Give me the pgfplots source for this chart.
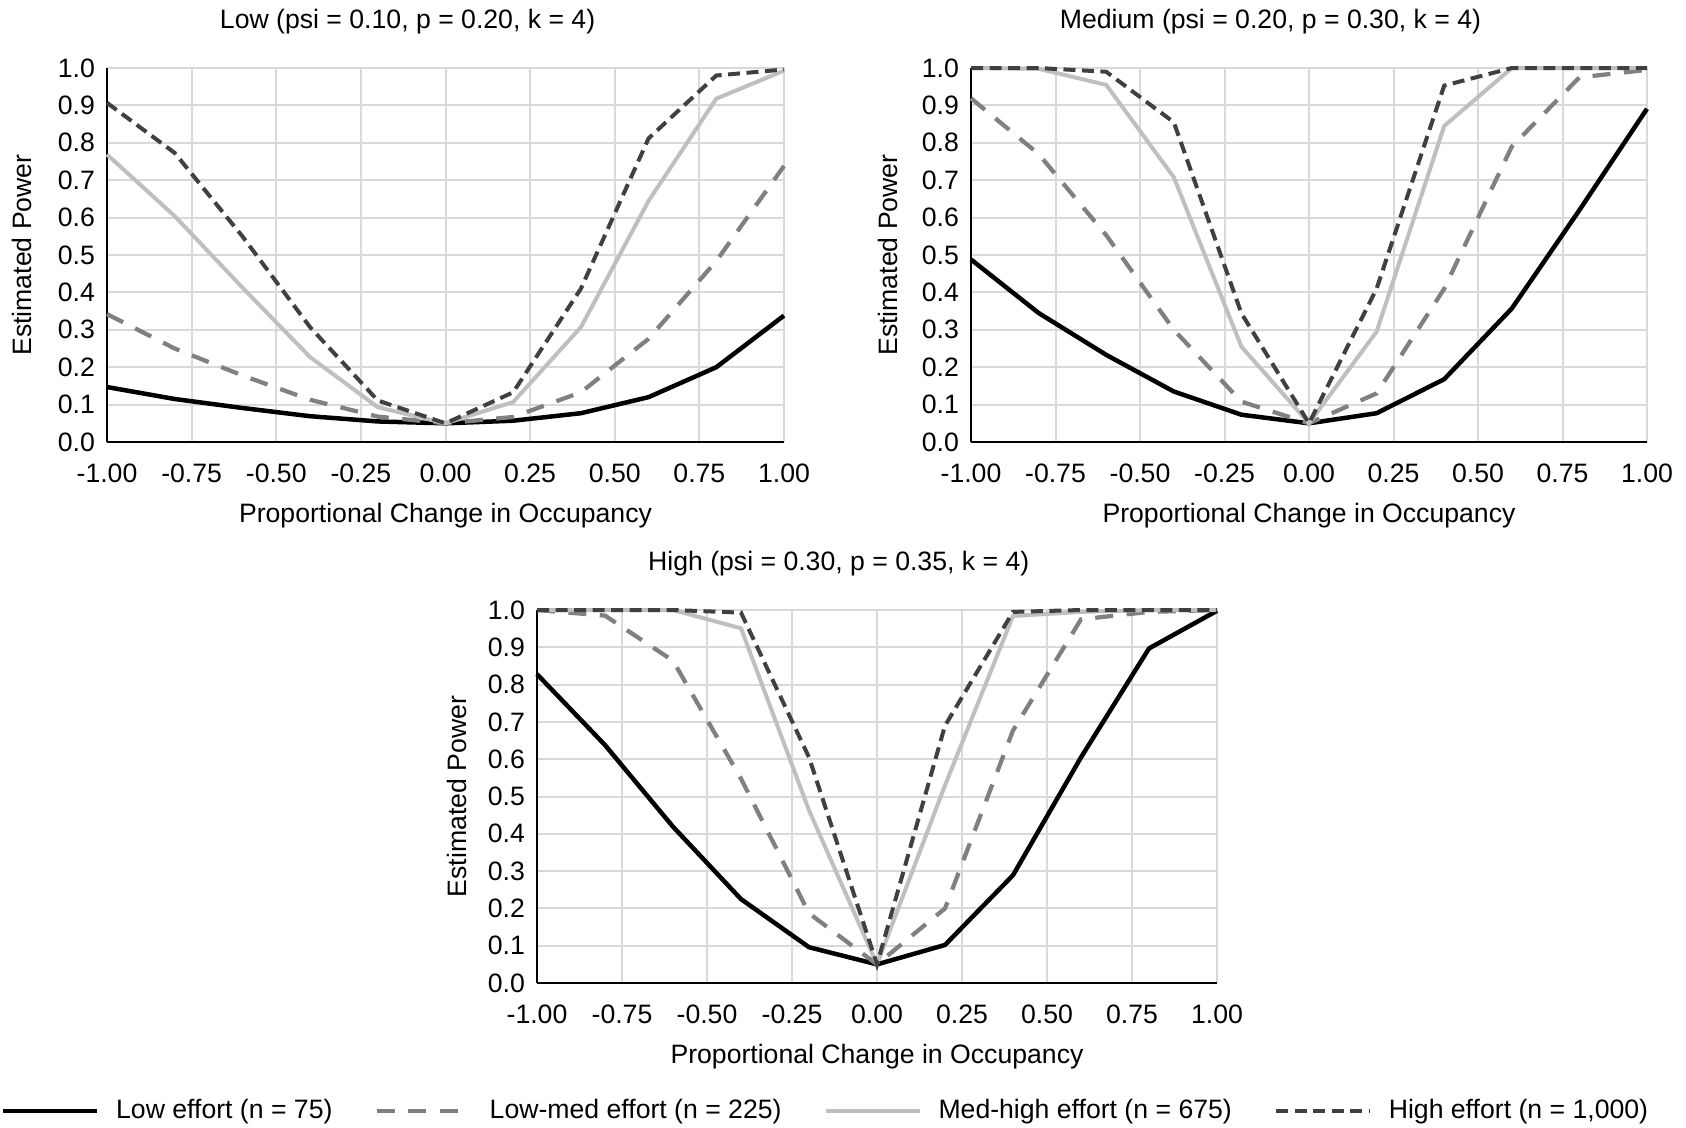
\documentclass[border=0pt]{standalone}
\usepackage{fontspec}
\setmainfont{Liberation Sans}
\usepackage{pgfplots}
\usepackage{pgfplotstable}
\pgfplotsset{compat=1.18}
\definecolor{gridc}{HTML}{D9D9D9}
\definecolor{lowmedc}{HTML}{808080}
\definecolor{medhighc}{HTML}{BFBFBF}
\definecolor{highc}{HTML}{404040}

\pgfplotstableread{
x     low    lowmed medhigh high
-1.0  0.147  0.342  0.769   0.907
-0.8  0.115  0.250  0.604   0.773
-0.6  0.091  0.178  0.413   0.550
-0.4  0.069  0.113  0.227   0.307
-0.2  0.055  0.068  0.093   0.111
 0.0  0.050  0.050  0.050   0.050
 0.2  0.057  0.067  0.107   0.133
 0.4  0.077  0.133  0.307   0.410
 0.6  0.120  0.276  0.645   0.812
 0.8  0.200  0.484  0.918   0.980
 1.0  0.338  0.738  0.993   0.996
}\lowtab

\pgfplotstableread{
x     low    lowmed medhigh high
-1.0  0.488  0.919  1.000   1.000
-0.8  0.345  0.770  0.998   1.000
-0.6  0.233  0.553  0.955   0.990
-0.4  0.135  0.300  0.708   0.855
-0.2  0.073  0.108  0.255   0.344
 0.0  0.050  0.050  0.050   0.050
 0.2  0.077  0.130  0.295   0.410
 0.4  0.168  0.410  0.845   0.953
 0.6  0.357  0.790  1.000   1.000
 0.8  0.620  0.975  1.000   1.000
 1.0  0.891  0.995  1.000   1.000
}\medtab

\pgfplotstableread{
x     low    lowmed medhigh high
-1.0  0.828  1.000  1.000   1.000
-0.8  0.638  0.985  1.000   1.000
-0.6  0.419  0.864  1.000   1.000
-0.4  0.225  0.548  0.951   0.993
-0.2  0.096  0.187  0.463   0.605
 0.0  0.050  0.050  0.050   0.050
 0.2  0.102  0.200  0.530   0.690
 0.4  0.289  0.677  0.984   0.995
 0.6  0.605  0.975  0.995   1.000
 0.8  0.897  0.995  1.000   1.000
 1.0  0.998  1.000  1.000   1.000
}\hightab

\pgfplotsset{
  lowst/.style={black, line width=1.8pt},
  lowmedst/.style={lowmedc, line width=1.7pt, dash pattern=on 7.2pt off 5.4pt},
  medhighst/.style={medhighc, line width=1.6pt},
  highst/.style={highc, line width=1.6pt, dash pattern=on 4.8pt off 2.6pt},
  myaxis/.style={
    scale only axis,
    font=\fontsize{10.65}{12.8}\selectfont,
    xmin=-1, xmax=1, ymin=0, ymax=1,
    xtick={-1,-0.75,-0.5,-0.25,0,0.25,0.5,0.75,1},
    xticklabels={-1.00,-0.75,-0.50,-0.25,0.00,0.25,0.50,0.75,1.00},
    ytick={0,0.1,0.2,0.3,0.4,0.5,0.6,0.7,0.8,0.9,1},
    yticklabels={0.0,0.1,0.2,0.3,0.4,0.5,0.6,0.7,0.8,0.9,1.0},
    grid=major,
    major grid style={draw=gridc, line width=0.8pt},
    axis x line*=bottom, axis y line*=left,
    axis line style={black, line width=0.8pt},
    major tick length=0pt,
    xticklabel shift=5.1pt,
    yticklabel shift=1.3pt,
    clip=false,
    xlabel={Proportional Change in Occupancy},
    ylabel={Estimated Power},
    title style={anchor=center, yshift=-6pt},
    xlabel style={at={(axis description cs:0.5,-0.196)}, anchor=center},
    ylabel style={anchor=center},
  }
}

\begin{document}
\begin{tikzpicture}
\path[use as bounding box] (0,0) rectangle (674.4pt,-450.8pt);

\begin{axis}[myaxis, at={(42.8pt,-176.8pt)}, anchor=south west,
  width=270.8pt, height=149.6pt,
  title={Low (psi = 0.10, p = 0.20, k = 4)},
  title style={at={(axis description cs:0.444,1.124)}},
  ylabel style={at={(axis description cs:-0.126,0.5)}}]
\addplot[lowst] table[x=x,y=low]{\lowtab};
\addplot[lowmedst] table[x=x,y=lowmed]{\lowtab};
\addplot[medhighst] table[x=x,y=medhigh]{\lowtab};
\addplot[highst] table[x=x,y=high]{\lowtab};
\end{axis}

\begin{axis}[myaxis, at={(388.4pt,-176.8pt)}, anchor=south west,
  width=270.4pt, height=149.6pt,
  title={Medium (psi = 0.20, p = 0.30, k = 4)},
  title style={at={(axis description cs:0.443,1.124)}},
  ylabel style={at={(axis description cs:-0.123,0.5)}}]
\addplot[lowst] table[x=x,y=low]{\medtab};
\addplot[lowmedst] table[x=x,y=lowmed]{\medtab};
\addplot[medhighst] table[x=x,y=medhigh]{\medtab};
\addplot[highst] table[x=x,y=high]{\medtab};
\end{axis}

\begin{axis}[myaxis, at={(214.8pt,-393.2pt)}, anchor=south west,
  width=272pt, height=149.2pt,
  title={High (psi = 0.30, p = 0.35, k = 4)},
  title style={at={(axis description cs:0.4437,1.125)}},
  ylabel style={at={(axis description cs:-0.118,0.5)}},
  legend columns=4,
  legend image code/.code={\draw[#1] (0pt,0pt) -- (37.7pt,0pt);},
  legend style={at={(axis description cs:-0.7891,-0.3425)}, anchor=west,
    draw=none, fill=none, inner sep=0pt,
    font=\fontsize{10.65}{12.8}\selectfont,
    /tikz/every odd column/.append style={column sep=4.6pt},
    /tikz/every even column/.append style={column sep=14.9pt}}]
\addplot[lowst] table[x=x,y=low]{\hightab};
\addlegendentry{Low effort (n = 75)}
\addplot[lowmedst] table[x=x,y=lowmed]{\hightab};
\addlegendentry{Low-med effort (n = 225)}
\addplot[medhighst] table[x=x,y=medhigh]{\hightab};
\addlegendentry{Med-high effort (n = 675)}
\addplot[highst] table[x=x,y=high]{\hightab};
\addlegendentry{High effort (n = 1,000)}
\end{axis}
\end{tikzpicture}
\end{document}
